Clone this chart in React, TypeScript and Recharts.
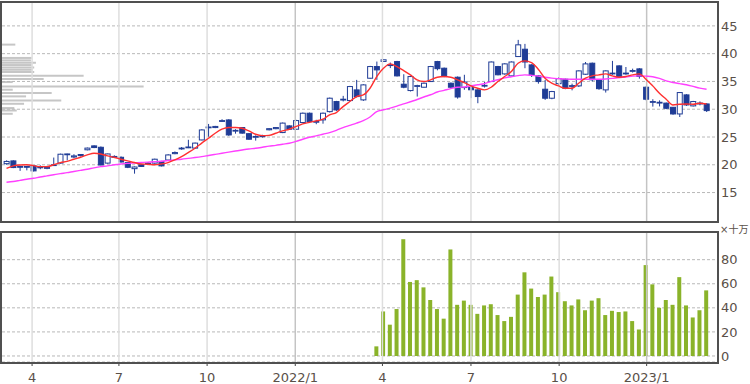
import { ComposedChart, BarChart, Bar, Line, XAxis, YAxis, CartesianGrid, ReferenceLine } from 'recharts';

// weekly candles, oldest first
const open = [
  20.2, 20.7, 19.7, 19.7, 19.8, 19.6, 19.5, 19.9, 20.3, 21.9, 21.4, 21.85, 22.7, 23.4, 23.15, 20.3, 21.5, 21.35, 20.4, 19.3,
  20.0, 20.25, 20.3, 20.6, 20.86, 22.0, 22.95, 23.1, 23.0, 24.47, 26.7, 26.7, 27.9, 28.07, 26.1, 26.7, 25.6, 25.05, 25.2, 26.3,
  26.5, 25.8, 27.0, 26.4, 27.6, 29.28, 27.8, 28.08, 29.57, 31.38, 31.7, 31.56, 33.48, 31.68, 35.58, 37.68, 38.6, 37.98, 38.58, 34.5,
  33.36, 34.2, 33.96, 34.98, 38.58, 37.38, 34.68, 35.76, 33.9, 33.9, 33.48, 34.2, 34.98, 37.68, 36.36, 36.0, 39.48, 40.8, 37.98, 36.0,
  33.6, 31.98, 34.6, 35.4, 34.2, 34.2, 36.3, 38.28, 35.28, 33.48, 36.4, 37.8, 36.4, 36.9, 37.26, 33.96, 31.3, 31.2, 31.1, 30.35,
  29.15, 32.58, 30.6, 31.05, 30.95,
];
const high = [
  20.8, 20.8, 19.8, 19.8, 19.9, 19.9, 19.8, 21.3, 22.0, 22.0, 21.9, 21.9, 23.1, 23.5, 23.3, 22.0, 21.7, 21.5, 20.5, 19.7,
  20.1, 20.5, 21.1, 20.7, 21.9, 22.4, 23.2, 24.5, 24.0, 26.4, 27.35, 27.0, 28.2, 28.2, 26.4, 26.8, 25.7, 25.3, 25.4, 26.6,
  26.8, 27.6, 27.1, 28.1, 29.4, 29.4, 28.1, 29.4, 32.1, 31.5, 32.4, 34.2, 35.28, 34.5, 37.8, 38.58, 39.0, 38.4, 38.7, 36.3,
  36.0, 34.4, 34.8, 37.8, 38.7, 37.5, 34.8, 35.9, 36.2, 34.0, 33.6, 34.9, 38.6, 37.8, 38.3, 38.6, 42.48, 41.76, 38.1, 36.1,
  35.28, 33.3, 35.8, 35.5, 34.6, 37.0, 38.5, 38.4, 35.4, 37.0, 38.7, 37.9, 37.6, 37.3, 37.4, 34.1, 31.8, 31.6, 31.2, 30.4,
  33.1, 32.7, 31.5, 31.4, 31.1,
];
const low = [
  20.0, 19.4, 18.9, 19.0, 18.8, 19.2, 19.2, 19.8, 20.2, 20.8, 21.2, 21.5, 22.6, 23.0, 19.9, 20.2, 21.2, 20.4, 19.4, 18.4,
  19.6, 20.0, 20.2, 19.7, 20.8, 21.9, 22.7, 23.0, 22.9, 24.4, 25.06, 26.6, 27.7, 25.2, 25.6, 25.6, 24.5, 24.35, 24.9, 26.2,
  26.4, 25.7, 26.3, 26.3, 27.5, 27.7, 27.3, 27.4, 29.4, 29.7, 31.4, 31.4, 32.1, 31.5, 35.5, 35.28, 38.5, 37.4, 35.9, 33.78,
  33.2, 32.28, 33.9, 34.9, 37.0, 35.76, 33.9, 31.9, 33.5, 32.0, 31.08, 33.9, 34.9, 36.1, 36.2, 35.9, 39.4, 37.38, 35.8, 34.6,
  31.68, 31.8, 34.3, 33.6, 33.4, 34.0, 36.2, 35.0, 33.5, 33.0, 36.2, 35.6, 36.2, 36.6, 35.5, 31.6, 30.47, 30.5, 30.0, 29.0,
  28.6, 30.6, 30.5, 30.7, 29.5,
];
const close = [
  20.6, 19.5, 19.6, 19.65, 18.9, 19.55, 19.5, 20.0, 21.9, 21.95, 21.6, 21.65, 23.0, 23.1, 19.96, 21.95, 21.45, 20.5, 19.55, 19.6,
  19.7, 20.3, 21.0, 19.8, 21.77, 22.2, 23.0, 23.2, 23.9, 26.27, 26.8, 26.9, 27.95, 25.37, 26.2, 25.7, 24.6, 25.1, 25.2, 26.5,
  26.7, 27.5, 26.4, 27.96, 29.28, 27.78, 27.8, 29.28, 31.98, 29.87, 31.8, 34.08, 32.28, 34.38, 37.68, 37.08, 38.9, 38.0, 36.0, 33.96,
  35.88, 34.25, 34.68, 37.68, 37.3, 35.88, 33.96, 32.2, 34.9, 33.5, 32.28, 34.3, 38.5, 36.2, 38.16, 38.5, 41.59, 38.5, 36.18, 34.98,
  31.98, 33.18, 35.5, 33.78, 34.25, 36.9, 38.16, 35.3, 33.7, 36.9, 36.5, 35.76, 36.5, 36.96, 35.9, 31.8, 31.38, 31.25, 30.17, 29.15,
  33.0, 30.77, 31.38, 31.1, 29.75,
];

// moving averages as drawn (red short, magenta long)
const maShort = [
  19.35, 19.8, 19.96, 20.0, 19.85, 19.66, 19.66, 20.0, 20.4, 20.6, 21.0, 21.35, 21.77, 22.07, 21.95, 21.6, 21.35, 21.0, 20.7, 20.4,
  20.15, 20.1, 20.0, 20.15, 20.4, 20.87, 21.47, 22.2, 22.97, 23.9, 24.77, 25.67, 26.4, 26.7, 26.7, 26.57, 26.1, 25.5, 25.25, 25.3,
  25.67, 26.1, 26.4, 26.87, 27.35, 27.65, 27.9, 28.2, 28.98, 29.4, 30.47, 31.38, 32.28, 32.58, 33.78, 35.88, 37.38, 38.16, 37.68, 36.96,
  36.18, 35.28, 34.98, 35.28, 35.76, 35.88, 35.76, 35.28, 34.8, 34.2, 33.78, 33.48, 33.96, 34.98, 35.88, 36.78, 38.28, 38.7, 38.4, 37.2,
  35.58, 34.68, 34.2, 33.78, 33.78, 34.68, 35.58, 36.0, 36.18, 36.36, 36.0, 35.76, 35.88, 36.18, 36.36, 35.4, 34.2, 32.88, 31.8, 30.77,
  30.9, 30.95, 30.9, 31.08, 30.95,
];
const maLong = [
  16.85, 17.0, 17.2, 17.4, 17.57, 17.8, 18.0, 18.2, 18.4, 18.58, 18.8, 19.0, 19.2, 19.45, 19.66, 19.8, 20.0, 20.15, 20.25, 20.32,
  20.4, 20.48, 20.55, 20.63, 20.75, 20.88, 21.0, 21.15, 21.3, 21.47, 21.67, 21.87, 22.07, 22.27, 22.47, 22.67, 22.85, 22.97, 23.15, 23.35,
  23.5, 23.7, 23.87, 24.2, 24.6, 24.95, 25.2, 25.5, 25.79, 26.2, 26.7, 27.1, 27.5, 27.96, 28.6, 29.58, 29.9, 30.2, 30.55, 30.95,
  31.35, 31.75, 32.2, 32.6, 33.1, 33.4, 33.7, 33.96, 34.0, 34.2, 34.4, 34.6, 35.0, 35.3, 35.65, 35.85, 36.05, 36.18, 36.1, 35.95,
  35.76, 35.6, 35.5, 35.42, 35.4, 35.4, 35.4, 35.4, 35.4, 35.45, 35.55, 35.7, 35.8, 35.95, 36.0, 35.95, 35.85, 35.55, 35.1, 34.8,
  34.6, 34.4, 34.1, 33.8, 33.6,
];

// volume (x 100k), only available from week 55 on
const volumeStart = 55;
const volumeValues = [
  8, 37, 26, 39, 97, 61.5, 63, 57, 46.5, 39, 31, 88.5, 42.5, 46, 42.5, 35, 42, 43, 34, 29,
  32.5, 51, 69.5, 56, 49, 51, 66, 53, 45.5, 42, 47, 38, 46, 48, 34, 37.5, 36.5, 37, 29, 22,
  75.5, 59.5, 40, 46.5, 42.5, 65.5, 42, 32, 38, 54.5,
];

// volume by price band (relative)
const profilePrice = [41.6, 39.2, 38.76, 38.34, 37.92, 37.5, 37.08, 36.66, 36.0, 35.4, 34.86, 34.07, 33.48, 32.88, 32.28, 31.55, 30.95, 30.18, 29.75, 29.15];
const profileVol = [9.3, 20.7, 20.2, 23.7, 20.7, 22.5, 21.4, 22.5, 57, 29.1, 7.5, 98.9, 7.5, 34.7, 16.8, 41.4, 15.4, 8.6, 10.3, 7.5];

// quarter starts, in week units
const quarterPos = [3.8, 16.7, 29.8, 42.9, 55.85, 69.0, 82.1, 95.1];
const quarterLabels = ['4', '7', '10', '2022/1', '4', '7', '10', '2023/1'];

const priceTicks = [15, 20, 25, 30, 35, 40, 45];
const volumeTicks = [0, 20, 40, 60, 80];

const NAVY = '#1f3c96';
const X_DOMAIN: [number, number] = [-0.67, 105.7];
const PRICE_DOMAIN: [number, number] = [9.7, 49.3];
const FONT = '"DejaVu Sans", Verdana, sans-serif';
const TICK = { fill: '#5a5048', fontSize: 13, fontFamily: FONT };

const candles = open.map((o, i) => ({
  i,
  open: o,
  high: high[i],
  low: low[i],
  close: close[i],
  range: [low[i], high[i]],
  maShort: maShort[i],
  maLong: maLong[i],
  volume: i >= volumeStart ? volumeValues[i - volumeStart] : null,
}));

const profile = profilePrice.map((price, k) => ({ price, vol: profileVol[k] }));

const Candle = (props: any) => {
  const { x, y, width, height, payload } = props;
  if (payload == null || height == null) return null;
  const k = height / (payload.high - payload.low || 1);
  const cx = x + width / 2;
  const yO = y + (payload.high - payload.open) * k;
  const yC = y + (payload.high - payload.close) * k;
  const up = payload.close >= payload.open;
  const top = Math.min(yO, yC);
  const bh = Math.max(Math.abs(yO - yC), 0.8);
  return (
    <g>
      <line x1={cx} x2={cx} y1={y} y2={y + height} stroke={NAVY} strokeWidth={1} />
      <rect x={cx - 2.5} y={top} width={5} height={bh} fill={up ? '#ffffff' : NAVY} stroke={NAVY} strokeWidth={1} />
    </g>
  );
};

const quarterLines = quarterPos.map((q, k) => (
  <ReferenceLine
    key={k}
    x={q}
    stroke={quarterLabels[k].includes('/') ? '#c4c4c4' : '#dedede'}
    strokeWidth={1.5}
    ifOverflow="extendDomain"
  />
));

export default function App() {
  return (
    <div style={{ position: 'absolute', left: 0, top: 0, width: 750, height: 384, background: '#fff' }}>
      {/* price band volume, behind the candles */}
      <div style={{ position: 'absolute', left: 0, top: 0 }}>
        <BarChart width={750} height={224} data={profile} layout="vertical" margin={{ top: 2, right: 32, left: 2, bottom: 2 }}>
          <XAxis type="number" domain={[0, 500]} hide />
          <YAxis type="number" dataKey="price" domain={PRICE_DOMAIN} hide allowDataOverflow reversed />
          <Bar dataKey="vol" fill="#c6c6c6" barSize={2} isAnimationActive={false} />
        </BarChart>
      </div>

      <div style={{ position: 'absolute', left: 0, top: 0 }}>
        <ComposedChart width={750} height={224} data={candles} margin={{ top: 2, right: 0, left: 2, bottom: 2 }}>
          <CartesianGrid vertical={false} stroke="#b8b8b8" strokeDasharray="3 2" />
          {quarterLines}
          <XAxis type="number" dataKey="i" domain={X_DOMAIN} hide allowDataOverflow />
          <YAxis
            orientation="right"
            domain={PRICE_DOMAIN}
            ticks={priceTicks}
            allowDataOverflow
            width={32}
            axisLine={false}
            tickLine={false}
            tickSize={0}
            tickMargin={3}
            tick={TICK}
          />
          <Bar dataKey="range" barSize={5} shape={Candle} isAnimationActive={false} />
          <Line type="monotone" dataKey="maLong" stroke="#ff40ff" strokeWidth={1.4} dot={false} isAnimationActive={false} />
          <Line type="monotone" dataKey="maShort" stroke="#ff3030" strokeWidth={1.4} dot={false} isAnimationActive={false} />
        </ComposedChart>
      </div>

      <div style={{ position: 'absolute', left: 0, top: 224 }}>
        <ComposedChart width={750} height={160} data={candles} margin={{ top: 8, right: 0, left: 2, bottom: 0 }}>
          <CartesianGrid vertical={false} stroke="#b8b8b8" strokeDasharray="3 2" />
          {quarterLines}
          <XAxis
            type="number"
            dataKey="i"
            domain={X_DOMAIN}
            allowDataOverflow
            ticks={quarterPos}
            interval={0}
            tickFormatter={(v: number) => quarterLabels[quarterPos.indexOf(v)] ?? ''}
            height={22}
            axisLine={false}
            tickSize={4}
            tickMargin={7}
            tickLine={{ stroke: '#444' }}
            tick={TICK}
          />
          <YAxis
            orientation="right"
            domain={[-5, 103]}
            ticks={volumeTicks}
            allowDataOverflow
            width={32}
            axisLine={false}
            tickLine={false}
            tickSize={0}
            tickMargin={3}
            tick={TICK}
          />
          <Bar dataKey="volume" fill="#8ab32a" barSize={4} isAnimationActive={false} />
        </ComposedChart>
      </div>

      {/* panel frames */}
      <div style={{ position: 'absolute', left: 0, top: 1, width: 719, height: 222, boxSizing: 'border-box', border: '2px solid #505050', pointerEvents: 'none' }} />
      <div style={{ position: 'absolute', left: 0, top: 231, width: 719, height: 133, boxSizing: 'border-box', border: '2px solid #505050', pointerEvents: 'none' }} />

      <span style={{ position: 'absolute', left: 720, top: 224, fontSize: 10, lineHeight: '11px', whiteSpace: 'nowrap', color: '#5a5048', fontFamily: '"DejaVu Sans", "Noto Sans CJK JP", sans-serif' }}>
        ×十万
      </span>
    </div>
  );
}
